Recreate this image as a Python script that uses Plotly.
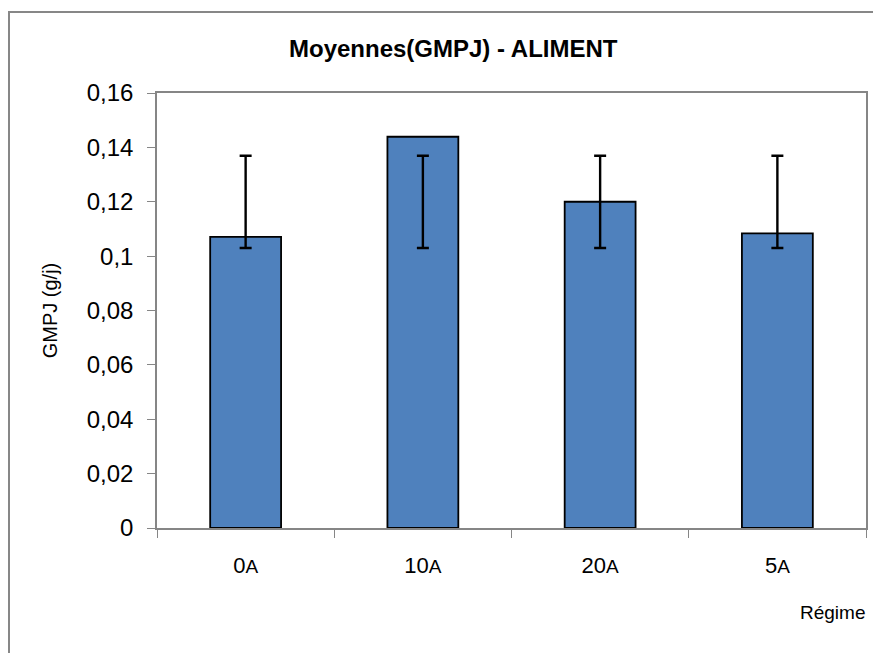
import plotly.graph_objects as go

categories = ["0A", "10A", "20A", "5A"]
tick_main = ["0", "10", "20", "5"]
tick_suffix = ["A", "A", "A", "A"]
means = [0.1071, 0.1439, 0.1200, 0.1084]
err_low = [0.1030, 0.1030, 0.1030, 0.1030]
err_high = [0.1369, 0.1369, 0.1369, 0.1369]
y_ticks = [0, 0.02, 0.04, 0.06, 0.08, 0.10, 0.12, 0.14, 0.16]
y_tick_text = ["0", "0,02", "0,04", "0,06", "0,08", "0,1", "0,12", "0,14", "0,16"]

FONT = "Liberation Sans, Arial, sans-serif"

# page has an 8px body margin; figure is sized so the plot lands at the reference pixels
OFF = 8
PL, PR, PT, PB = 157, 866, 93, 528
W, H = 881 - OFF, 653 - OFF
PW, PH = PR - PL, PB - PT

def px(x):
    return (x - PL) / PW

def py(y):
    return (PB - y) / PH

mid = [(lo + hi) / 2 for lo, hi in zip(err_low, err_high)]
half = [(hi - lo) / 2 for lo, hi in zip(err_low, err_high)]

fig = go.Figure()
fig.add_trace(go.Bar(
    x=categories, y=means,
    marker=dict(color="#4F81BD", line=dict(color="#000000", width=1.8)),
    width=0.4, showlegend=False, hoverinfo="skip",
))
fig.add_trace(go.Scatter(
    x=categories, y=mid, mode="markers",
    marker=dict(size=1, opacity=0),
    error_y=dict(type="data", array=half, symmetric=True,
                 color="#000000", thickness=2.4, width=6),
    showlegend=False, hoverinfo="skip",
))

ticktext = [f"{m}<span style='font-size:19px'>{s}</span>" for m, s in zip(tick_main, tick_suffix)]

fig.update_layout(
    width=W, height=H,
    margin=dict(l=PL - OFF, r=881 - PR, t=PT - OFF, b=653 - PB),
    paper_bgcolor="white", plot_bgcolor="white",
    font=dict(family=FONT, color="#000000", size=22),
    separators=",.",
    bargap=0.6,
    xaxis=dict(
        tickmode="array", tickvals=categories, ticktext=ticktext,
        tickson="boundaries", ticks="outside", ticklen=8, tickcolor="#868686", tickwidth=1,
        showline=True, linecolor="#868686", linewidth=1.5, mirror=True,
        showgrid=False, ticklabelstandoff=17,
        tickfont=dict(size=22),
    ),
    yaxis=dict(
        range=[0, 0.16], tickmode="array", tickvals=y_ticks, ticktext=y_tick_text,
        ticks="outside", ticklen=8, tickcolor="#868686", tickwidth=1,
        showline=True, linecolor="#868686", linewidth=1.5, mirror=True,
        showgrid=False, zeroline=False, ticklabelstandoff=9,
        tickfont=dict(size=24),
        title=dict(text="GMPJ (g/j)", font=dict(size=20, family=FONT), standoff=24),
    ),
    shapes=[dict(type="rect", xref="paper", yref="paper",
                 x0=px(9), x1=1.2, y0=-0.5, y1=py(12),
                 line=dict(color="#878787", width=2), layer="below")],
    annotations=[
        dict(text="<b>Moyennes(GMPJ) - ALIMENT</b>", xref="paper", yref="paper",
             x=px(453), y=py(48), showarrow=False,
             xanchor="center", yanchor="middle", font=dict(size=24)),
        dict(text="Régime", xref="paper", yref="paper",
             x=px(832), y=py(612), showarrow=False,
             xanchor="center", yanchor="middle", font=dict(size=19)),
    ],
)

fig.write_html("out.html")
